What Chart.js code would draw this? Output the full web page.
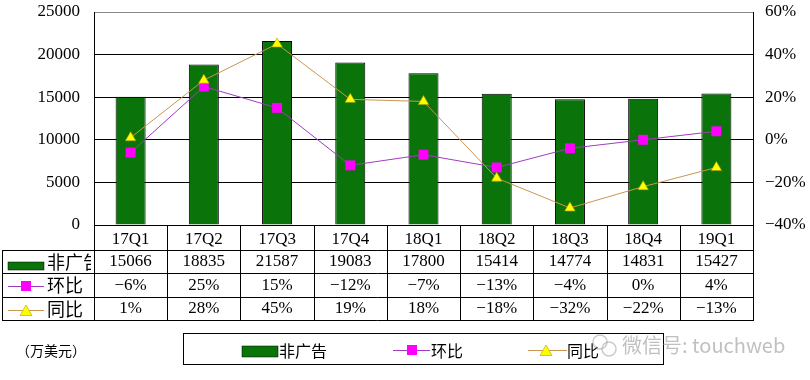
<!DOCTYPE html>
<html>
<head>
<meta charset="utf-8">
<script src="https://cdn.jsdelivr.net/npm/chart.js@4/dist/chart.umd.min.js"></script>
<style>
html,body{margin:0;padding:0;background:#fff;}
#wrap{width:810px;height:380px;position:relative;}
</style>
</head>
<body>
<div id="wrap"><canvas id="c" width="810" height="380"></canvas></div>
<script>
const categories = ['17Q1','17Q2','17Q3','17Q4','18Q1','18Q2','18Q3','18Q4','19Q1'];
const nonAdRevenue = [15066,18835,21587,19083,17800,15414,14774,14831,15427];
const qoq = [-6,25,15,-12,-7,-13,-4,0,4];
const yoy = [1,28,45,19,18,-18,-32,-22,-13];
const leftTicks = [0,5000,10000,15000,20000,25000];
const rightTicks = [-40,-20,0,20,40,60];
const seriesNames = ['非广告','环比','同比'];
const unitLabel = '（万美元）';
const watermark = '微信号: touchweb';

const SERIF = '"Liberation Serif","DejaVu Serif",serif';
const CJK = '"Noto Sans CJK SC","Noto Sans",sans-serif';
const GREEN = '#0a740a';
const PURPLE = '#a03cc0';
const MAGENTA = '#ff00ff';
const TAN = '#c89650';
const YELLOW = '#ffff00';

function pct(v){ return (v<0 ? '\u2212' + Math.abs(v) : String(v)) + '%'; }

function drawSquare(ctx,x,y,s){ ctx.fillStyle=MAGENTA; ctx.fillRect(x-s/2,y-s/2,s,s); }
function drawTri(ctx,x,y,s){
  ctx.beginPath(); ctx.moveTo(x,y-s*0.6); ctx.lineTo(x+s*0.6,y+s*0.45); ctx.lineTo(x-s*0.6,y+s*0.45); ctx.closePath();
  ctx.fillStyle=YELLOW; ctx.fill(); ctx.strokeStyle='#b0a000'; ctx.lineWidth=0.6; ctx.stroke();
}

function noPad(s){ s.paddingTop=0; s.paddingBottom=0; s.paddingLeft=0; s.paddingRight=0; }

const tablePlugin = {
  id:'tablePlugin',
  afterDraw(chart){
    const ctx = chart.ctx;
    const xs = chart.scales.x;
    const ca = chart.chartArea;
    const L = Math.round(ca.left), R = Math.round(ca.right), B = Math.round(ca.bottom);
    const rows = [250,273,297,320];
    ctx.save();
    ctx.strokeStyle='#000'; ctx.lineWidth=1;
    ctx.beginPath();
    rows.forEach(y=>{ ctx.moveTo(2, y+0.5); ctx.lineTo(R+0.5, y+0.5); });
    ctx.moveTo(2.5, rows[0]); ctx.lineTo(2.5, rows[3]+1);
    const n = categories.length;
    for(let i=0;i<=n;i++){
      let x;
      if(i===0) x=L; else if(i===n) x=R;
      else x = Math.round((xs.getPixelForValue(i-1)+xs.getPixelForValue(i))/2);
      ctx.moveTo(x+0.5, B); ctx.lineTo(x+0.5, rows[3]+1);
    }
    ctx.stroke();

    // values
    ctx.fillStyle='#000'; ctx.font='17px '+SERIF; ctx.textAlign='center'; ctx.textBaseline='middle';
    const rc = [262,285.5,309];
    for(let i=0;i<n;i++){
      const x = xs.getPixelForValue(i);
      ctx.fillText(String(nonAdRevenue[i]), x, rc[0]);
      ctx.fillText(pct(qoq[i]), x, rc[1]);
      ctx.fillText(pct(yoy[i]), x, rc[2]);
    }
    // row labels
    ctx.save();
    ctx.beginPath(); ctx.rect(3, rows[0]+1, L-6, rows[3]-rows[0]); ctx.clip();
    ctx.fillStyle=GREEN; ctx.fillRect(8,262,36,8); ctx.strokeStyle='#000'; ctx.lineWidth=0.5; ctx.strokeRect(8,262,36,8);
    ctx.strokeStyle=PURPLE; ctx.lineWidth=1; ctx.beginPath(); ctx.moveTo(8,286.5); ctx.lineTo(44,286.5); ctx.stroke();
    drawSquare(ctx,26,286,10);
    ctx.strokeStyle=TAN; ctx.beginPath(); ctx.moveTo(8,310.5); ctx.lineTo(44,310.5); ctx.stroke();
    drawTri(ctx,26,311,10);
    ctx.fillStyle='#000'; ctx.font='18px '+CJK; ctx.textAlign='left'; ctx.textBaseline='middle';
    ctx.fillText(seriesNames[0],47,262);
    ctx.fillText(seriesNames[1],47,285.5);
    ctx.fillText(seriesNames[2],47,309);
    ctx.restore();

    // unit
    ctx.fillStyle='#000'; ctx.font='14px '+CJK; ctx.textAlign='left'; ctx.textBaseline='middle';
    ctx.fillText(unitLabel, 16, 351);

    // legend box
    ctx.strokeStyle='#000'; ctx.lineWidth=1;
    ctx.strokeRect(183.5,333.5,480,31);
    ctx.fillStyle=GREEN; ctx.fillRect(242,346,36,11); ctx.lineWidth=0.5; ctx.strokeRect(242,346,36,11);
    ctx.font='16px '+CJK; ctx.fillStyle='#000'; ctx.textBaseline='middle';
    ctx.fillText(seriesNames[0],279,351);
    ctx.strokeStyle=PURPLE; ctx.lineWidth=1; ctx.beginPath(); ctx.moveTo(393,350.5); ctx.lineTo(430,350.5); ctx.stroke();
    drawSquare(ctx,412,350,10);
    ctx.fillStyle='#000'; ctx.fillText(seriesNames[1],431,351);
    ctx.strokeStyle=TAN; ctx.lineWidth=1; ctx.beginPath(); ctx.moveTo(528,350.5); ctx.lineTo(567,350.5); ctx.stroke();
    drawTri(ctx,546,351,10);
    ctx.fillStyle='#000'; ctx.fillText(seriesNames[2],567,351);

    // watermark
    ctx.strokeStyle='rgba(160,160,160,0.55)'; ctx.lineWidth=1.5;
    ctx.beginPath(); ctx.arc(600,342,7,0,Math.PI*2); ctx.stroke();
    ctx.beginPath(); ctx.arc(609,349,7,0,Math.PI*2); ctx.stroke();
    ctx.fillStyle='rgba(150,150,150,0.6)'; ctx.font='20px '+CJK; ctx.textAlign='left';
    ctx.fillText(watermark, 622, 345);
    ctx.restore();
  }
};

new Chart(document.getElementById('c'), {
  type:'bar',
  data:{
    labels:categories,
    datasets:[
      {type:'line', label:seriesNames[2], data:yoy, yAxisID:'y1', borderColor:TAN, borderWidth:1,
       pointStyle:'triangle', pointRadius:6, pointBackgroundColor:YELLOW, pointBorderColor:'#b0a000', pointBorderWidth:0.6, order:0, tension:0},
      {type:'line', label:seriesNames[1], data:qoq, yAxisID:'y1', borderColor:PURPLE, borderWidth:1,
       pointStyle:'rect', pointRadius:7, pointBackgroundColor:MAGENTA, pointBorderColor:MAGENTA, pointBorderWidth:0, order:1, tension:0},
      {type:'bar', label:seriesNames[0], data:nonAdRevenue, yAxisID:'y', backgroundColor:GREEN, borderColor:'#000', borderWidth:1,
       barPercentage:0.41, categoryPercentage:1, order:2}
    ]
  },
  options:{
    responsive:false, animation:false,
    layout:{padding:{top:12,left:0,right:0,bottom:0}},
    plugins:{legend:{display:false}, tooltip:{enabled:false}},
    scales:{
      x:{
        grid:{display:false}, border:{display:false},
        ticks:{color:'#000', font:{family:SERIF,size:17}, padding:-4, maxRotation:0},
        afterFit(s){ s.height = 155; noPad(s); }
      },
      y:{
        position:'left', min:0, max:25000,
        afterBuildTicks(s){ s.ticks = leftTicks.map(v=>({value:v})); },
        grid:{color:(c)=> c.tick && c.tick.value===25000 ? '#8a8a8a' : '#000', drawTicks:false, lineWidth:1},
        border:{color:'#000', width:1},
        ticks:{color:'#000', font:{family:SERIF,size:17}, padding:14, callback:(v)=> String(v)},
        afterFit(s){ s.width = 94; noPad(s); }
      },
      y1:{
        position:'right', min:-40, max:60,
        afterBuildTicks(s){ s.ticks = rightTicks.map(v=>({value:v})); },
        grid:{display:false, drawTicks:false},
        border:{color:'#000', width:1},
        ticks:{color:'#000', font:{family:SERIF,size:17}, padding:12, callback:(v)=> pct(v)},
        afterFit(s){ s.width = 57; noPad(s); }
      }
    }
  },
  plugins:[tablePlugin]
});
</script>
</body>
</html>
